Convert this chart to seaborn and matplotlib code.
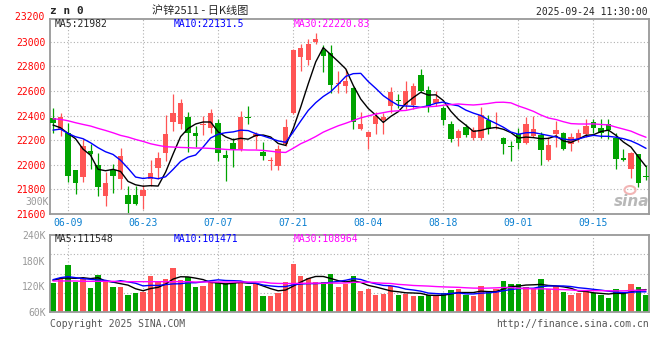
import numpy as np
import pandas as pd
import seaborn as sns
import matplotlib.pyplot as plt
from matplotlib.patches import Ellipse

# daily K-line for SHFE zinc 2511, 2025-06-05 .. 2025-09-24
dates = pd.bdate_range("2025-06-05", "2025-09-24")
tick_labels = ["06-09", "06-23", "07-07", "07-21", "08-04", "08-18", "09-01", "09-15"]

opens = [22382, 22293, 22260, 21954, 21900, 22109, 22000, 21746, 21960, 21887,
         21757, 21751, 21746, 21887, 21971, 22095, 22344, 22331, 22385, 22255,
         22320, 22298, 22342, 22076, 22179, 22125, 22390, 22228, 22106, 22027,
         21990, 22171, 22418, 22875, 22851, 22997, 22932, 22905, 22653, 22640,
         22626, 22293, 22225, 22328, 22363, 22477, 22529, 22483, 22488, 22726,
         22604, 22499, 22458, 22328, 22217, 22306, 22217, 22217, 22363, 22298,
         22217, 22152, 22252, 22174, 22233, 22244, 22038, 22247, 22255, 22166,
         22206, 22247, 22350, 22296, 22328, 22220, 22052, 21962, 22084, 21906]
highs = [22458, 22418, 22342, 21954, 22206, 22168, 22098, 21941, 22003, 22136,
         21827, 21827, 21838, 22036, 22103, 22401, 22572, 22531, 22428, 22315,
         22396, 22450, 22374, 22120, 22220, 22434, 22477, 22269, 22187, 22063,
         22158, 22374, 22943, 22984, 23019, 23073, 22970, 22970, 22762, 22775,
         22634, 22428, 22271, 22428, 22423, 22634, 22572, 22680, 22667, 22775,
         22640, 22599, 22477, 22355, 22288, 22328, 22309, 22472, 22401, 22428,
         22225, 22193, 22301, 22390, 22396, 22266, 22228, 22355, 22266, 22255,
         22293, 22369, 22369, 22374, 22374, 22255, 22125, 22103, 22090, 21995]
lows = [22255, 22233, 21860, 21765, 21860, 21968, 21746, 21664, 21767, 21800,
        21605, 21670, 21637, 21827, 21881, 22030, 22271, 22288, 22103, 22147,
        22239, 22260, 22030, 21868, 21984, 22111, 22328, 22130, 22038, 21957,
        21957, 22152, 22409, 22762, 22810, 22978, 22753, 22580, 22586, 22586,
        22293, 22282, 22130, 22247, 22247, 22423, 22461, 22450, 22455, 22594,
        22428, 22477, 22320, 22185, 22152, 22228, 22201, 22201, 22250, 22288,
        22084, 22030, 22125, 22166, 22228, 21995, 22033, 22147, 22120, 22111,
        22185, 22228, 22260, 22220, 22212, 21962, 22030, 21889, 21822, 21876]
closes = [22336, 22390, 21908, 21851, 22152, 22087, 21819, 21849, 21908, 22068,
          21681, 21681, 21792, 21930, 22052, 22247, 22418, 22499, 22258, 22236,
          22328, 22418, 22098, 22055, 22117, 22390, 22380, 22252, 22071, 22036,
          22125, 22304, 22932, 22949, 22978, 23019, 22884, 22648, 22667, 22680,
          22347, 22328, 22266, 22396, 22385, 22591, 22521, 22596, 22640, 22599,
          22477, 22531, 22363, 22206, 22271, 22239, 22279, 22401, 22288, 22309,
          22166, 22144, 22179, 22328, 22288, 22120, 22158, 22279, 22125, 22225,
          22255, 22315, 22301, 22255, 22282, 22044, 22041, 22098, 21849, 21897]
volumes = [127000, 136400, 169900, 130900, 136400, 116900, 146500, 130900, 118400, 118400,
           99700, 104400, 107500, 144200, 132500, 137900, 162900, 134800, 141800, 118400,
           120800, 130100, 128600, 128600, 128600, 130100, 120800, 127000, 97400, 97400,
           105200, 130100, 172200, 144200, 138700, 130100, 130100, 148800, 118400, 124700,
           144200, 109100, 114500, 99700, 102100, 120800, 99700, 102100, 97400, 97400,
           99700, 97400, 104400, 111400, 114500, 99700, 97400, 120800, 106000, 113000,
           132500, 125500, 125500, 118400, 116100, 137100, 113000, 120800, 106800, 99700,
           104400, 109100, 104400, 99700, 92700, 113800, 104400, 125500, 118400, 99700]

# moving averages at the left edge need bars before 06-05
ma5_head = [22323, 22301, 22255, 22212]
ma10_head = [22282, 22290, 22255, 22228, 22212, 22179, 22139, 22106, 22084]
ma30_head = [22374, 22369, 22358, 22342, 22328, 22315, 22296, 22279, 22260, 22239,
             22225, 22206, 22190, 22171, 22158, 22147, 22144, 22141, 22139, 22136,
             22136, 22133, 22130, 22125, 22122, 22122, 22120, 22120, 22117]
vma5_head = [134000, 138700, 139500, 138700]
vma10_head = [135600, 140300, 142600, 140300, 137900, 136400, 134800, 134000, 130100]
vma30_head = [132500, 132500, 132500, 132500, 131700, 131700, 131700, 131700, 131700, 130900,
              130900, 130900, 130900, 130900, 130900, 130900, 130900, 130900, 130900, 130100,
              130100, 130100, 130100, 130100, 130100, 130100, 130100, 130100, 130100]

RED = "#ff5555"
GREEN = "#00a300"
GRAY = "#999999"
BLUE_TXT = "#0a7fd0"

df = pd.DataFrame({"date": dates, "open": opens, "high": highs, "low": lows,
                   "close": closes, "vol": volumes})
df["i"] = np.arange(len(df))
df["dir"] = np.where(df["close"] >= df["open"], "up", "down")


def moving(s, n, head):
    m = s.rolling(n).mean()
    m.iloc[:len(head)] = head
    return m


df["ma5"] = moving(df["close"], 5, ma5_head)
df["ma10"] = moving(df["close"], 10, ma10_head)
df["ma30"] = moving(df["close"], 30, ma30_head)
df["vma5"] = moving(df["vol"], 5, vma5_head)
df["vma10"] = moving(df["vol"], 10, vma10_head)
df["vma30"] = moving(df["vol"], 30, vma30_head)

sns.set_style("white")
plt.rcParams["font.family"] = ["DejaVu Sans Mono", "Noto Sans CJK SC"]

W, H = 660, 360
fig = plt.figure(figsize=(6.6, 3.6), dpi=100)


def rect(x0, y0, x1, y1):
    return [x0 / W, 1 - y1 / H, (x1 - x0) / W, (y1 - y0) / H]


def px(x, y):
    return x / W, 1 - y / H


ax = fig.add_axes(rect(50, 19, 649, 214))
axv = fig.add_axes(rect(50, 235, 649, 312))

tick_pos = [int(df.index[df["date"].dt.strftime("%m-%d") == t][0]) for t in tick_labels]

# price panel
colors = np.where(df["dir"] == "up", RED, GREEN)
body_lo = np.minimum(df["open"], df["close"])
body_h = np.maximum(np.abs(df["close"] - df["open"]), 8)
ax.vlines(df["i"], df["low"], df["high"], colors=colors, lw=0.9, zorder=2)
ax.bar(df["i"], body_h, bottom=body_lo, width=0.72, color=colors, zorder=3, linewidth=0)
sns.lineplot(data=df, x="i", y="ma5", color="black", lw=1, ax=ax, zorder=4)
sns.lineplot(data=df, x="i", y="ma10", color="#0000ff", lw=1, ax=ax, zorder=4)
sns.lineplot(data=df, x="i", y="ma30", color="#ff00ff", lw=1, ax=ax, zorder=4)

ax.set_xlim(-0.4, 79.4)
ax.set_ylim(21600, 23185)
ax.set_yticks(range(21600, 23001, 200))
ax.set_yticklabels([str(v) for v in range(21600, 23001, 200)], color="#ff0000", fontsize=7)
ax.set_xticks(tick_pos)
ax.set_xticklabels(tick_labels, color=BLUE_TXT, fontsize=7)
ax.tick_params(length=0, pad=3)
ax.set_xlabel("")
ax.set_ylabel("")
ax.text(-0.4, 23200, "23200 ", color="#ff0000", fontsize=7, ha="right", va="center",
        clip_on=False)
ax.text(-0.6, 21695, "300K", color=GRAY, fontsize=7, ha="right", va="center", clip_on=False)

# volume panel
sns.barplot(data=df, x="i", y="vol", hue="dir", palette={"up": RED, "down": GREEN},
            native_scale=True, dodge=False, width=0.72, errorbar=None, saturation=1,
            legend=False, linewidth=0, ax=axv)
sns.lineplot(data=df, x="i", y="vma5", color="black", lw=1, ax=axv)
sns.lineplot(data=df, x="i", y="vma10", color="#0000ff", lw=1, ax=axv)
sns.lineplot(data=df, x="i", y="vma30", color="#ff00ff", lw=1, ax=axv)
axv.set_xlim(-0.4, 79.4)
axv.set_ylim(60000, 240000)
axv.set_yticks([60000, 120000, 180000, 240000])
axv.set_yticklabels(["60K", "120K", "180K", "240K"], color=GRAY, fontsize=7)
axv.set_xticks(tick_pos)
axv.set_xticklabels([])
axv.tick_params(length=0, pad=3)
axv.set_xlabel("")
axv.set_ylabel("")
for v in [105000, 150000, 195000]:
    axv.axhline(v, color="#b0b0b0", lw=0.8, ls=(0, (1, 2)), zorder=0)

for a in (ax, axv):
    a.grid(True, color="#b0b0b0", lw=0.8, ls=(0, (1, 2)))
    a.set_axisbelow(True)
    for s in a.spines.values():
        s.set_color(GRAY)
        s.set_linewidth(1.3)
axv.grid(False, axis="y")

# header and footer texts
fig.text(*px(50, 11), "z n 0", fontsize=8, fontweight="bold", va="center")
fig.text(*px(200, 11), "沪锌2511 - 日K线图", fontsize=8, ha="center", va="center",
         family=["Noto Sans CJK SC", "DejaVu Sans"])
fig.text(*px(648, 12), "2025-09-24 11:30:00", fontsize=7, ha="right", va="center")
fig.text(*px(55, 24), "MA5:21982", fontsize=7, va="center")
fig.text(*px(174, 24), "MA10:22131.5", fontsize=7, va="center", color="#0000ff")
fig.text(*px(294, 24), "MA30:22220.83", fontsize=7, va="center", color="#ff00ff")
fig.text(*px(55, 239), "MA5:111548", fontsize=7, va="center")
fig.text(*px(174, 239), "MA10:101471", fontsize=7, va="center", color="#0000ff")
fig.text(*px(294, 239), "MA30:108964", fontsize=7, va="center", color="#ff00ff")
fig.text(*px(50, 324), "Copyright 2025 SINA.COM", fontsize=7, va="center", color="#555555")
fig.text(*px(649, 324), "http://finance.sina.com.cn", fontsize=7, ha="right", va="center",
         color="#555555")

# sina watermark
fig.patches.append(Ellipse(px(630, 190), 11 / W, 8 / H, transform=fig.transFigure,
                           fill=False, edgecolor="#f2b5b5", lw=1.5))
fig.text(*px(632, 201), "sina", fontsize=11, ha="center", va="center", color="#b8b8b8",
         fontweight="bold", style="italic", family="DejaVu Sans")

fig.savefig("out.png", dpi=100)
